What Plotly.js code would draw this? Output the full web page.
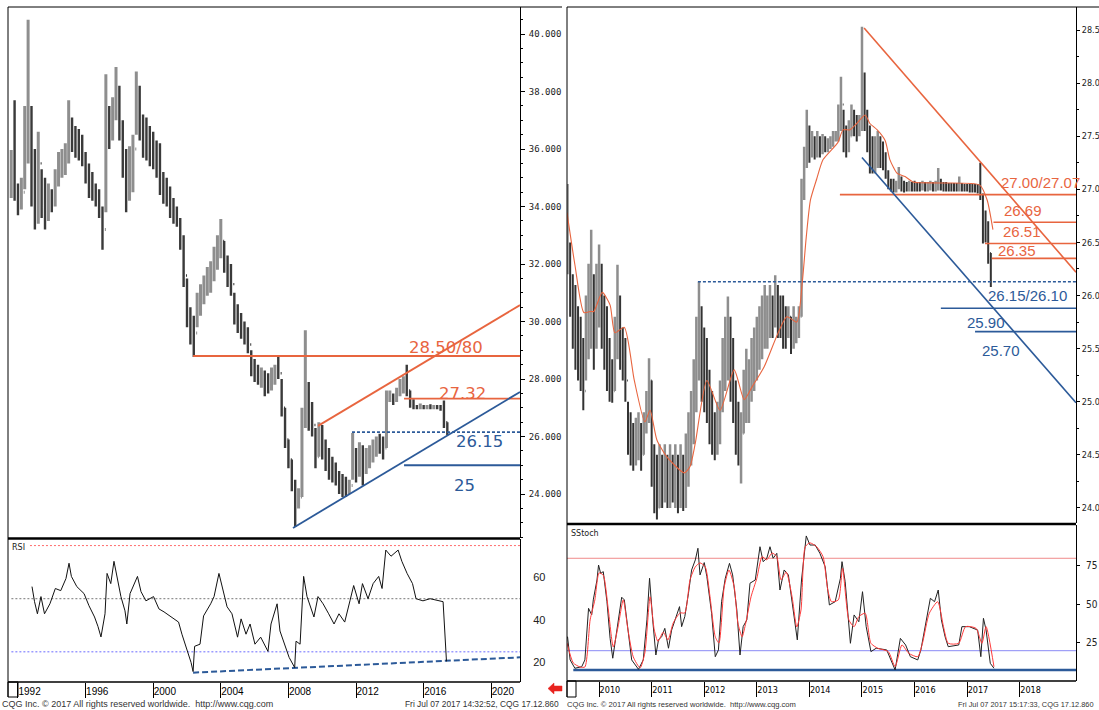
<!DOCTYPE html>
<html><head><meta charset="utf-8">
<script src="https://cdn.plot.ly/plotly-3.0.1.min.js"></script>
<style>html,body{margin:0;padding:0;background:#fff;overflow:hidden}#chart{width:1099px;height:710px}</style>
</head><body><div id="chart"></div>
<script>
// ---------- LEFT PANEL: long-term bars (year, high, low, close) ----------
const lYear = [1991.6,1991.8,
 1992.0,1992.2,1992.4,1992.6,1992.8, 1993.0,1993.2,1993.4,1993.6,1993.8,
 1994.0,1994.2,1994.4,1994.6,1994.8, 1995.0,1995.2,1995.4,1995.6,1995.8,
 1996.0,1996.2,1996.4,1996.6,1996.8, 1997.0,1997.2,1997.4,1997.6,1997.8,
 1998.0,1998.2,1998.4,1998.6,1998.8, 1999.0,1999.2,1999.4,1999.6,1999.8,
 2000.0,2000.2,2000.4,2000.6,2000.8, 2001.0,2001.2,2001.4,2001.6,2001.8,
 2002.0,2002.2,2002.4,2002.6,2002.8, 2003.0,2003.2,2003.4,2003.6,2003.8,
 2004.0,2004.2,2004.4,2004.6,2004.8, 2005.0,2005.2,2005.4,2005.6,2005.8,
 2006.0,2006.2,2006.4,2006.6,2006.8, 2007.0,2007.2,2007.4,2007.6,2007.8,
 2008.0,2008.2,2008.4,2008.6,2008.8, 2009.0,2009.2,2009.4,2009.6,2009.8,
 2010.0,2010.2,2010.4,2010.6,2010.8, 2011.0,2011.2,2011.4,2011.6,2011.8,
 2012.0,2012.2,2012.4,2012.6,2012.8, 2013.0,2013.2,2013.4,2013.6,2013.8,
 2014.0,2014.2,2014.4,2014.6,2014.8, 2015.0,2015.2,2015.4,2015.6,2015.8,
 2016.0,2016.2,2016.4,2016.6,2016.8, 2017.0,2017.2,2017.4];
const lHigh = [35.97,37.7,
 34.8,35.0,37.5,40.5,37.5, 36.0,36.6,35.3,35.0,34.8,
 34.6,35.3,35.9,36.0,36.2, 37.7,37.1,36.8,36.7,36.5,
 35.9,35.5,35.2,34.8,34.6, 34.0,38.6,37.5,37.8,38.85,
 38.2,37.0,36.0,36.1,36.5, 38.7,38.2,37.2,37.1,36.8,
 36.6,36.3,36.2,35.2,35.0, 34.7,34.3,34.0,33.6,33.0,
 31.5,30.5,30.2,31.0,31.3, 31.6,31.9,32.1,32.6,33.0,
 33.57,32.8,32.3,32.0,31.0, 30.6,30.3,30.0,29.8,29.0,
 28.7,28.5,28.4,28.3,28.2, 28.4,28.5,28.77,28.0,27.0,
 25.9,25.2,24.5,24.2,27.0, 29.7,27.9,27.2,26.3,26.5,
 26.4,25.9,25.6,25.3,25.1, 24.8,24.7,24.6,24.5,26.12,
 25.6,25.8,25.7,25.6,25.7, 25.9,26.0,26.1,26.0,27.6,
 27.6,27.5,27.7,28.0,28.1, 28.5,27.6,27.3,27.1,27.15,
 27.1,27.1,27.12,27.1,27.1, 27.1,27.25,26.5];
const lLow = [34.3,34.2,
 33.7,33.9,34.6,35.5,34.0, 33.2,33.4,33.6,33.2,33.5,
 33.8,34.0,34.7,35.0,35.1, 35.5,35.9,35.7,35.6,35.4,
 34.8,34.3,34.2,34.0,33.6, 32.5,33.8,36.0,36.3,37.0,
 36.3,35.0,33.8,34.2,34.5, 36.5,36.3,35.7,35.6,35.4,
 35.3,35.0,34.4,34.1,34.0, 33.6,33.4,33.3,32.5,31.2,
 29.8,29.2,28.77,29.8,30.2, 30.6,30.9,31.0,31.4,31.8,
 32.2,31.7,31.2,30.9,29.9, 29.6,29.4,29.2,28.9,28.1,
 27.9,27.8,27.7,27.4,27.5, 27.6,27.8,28.0,26.7,25.6,
 24.9,24.1,22.85,23.5,23.9, 26.3,26.2,26.0,24.9,25.3,
 25.2,24.8,24.5,24.4,24.3, 24.0,23.9,23.9,24.0,24.5,
 24.4,24.6,24.3,24.7,24.9, 25.1,25.3,25.4,25.2,25.6,
 27.2,27.1,27.2,27.4,27.5, 27.4,27.0,26.95,26.95,26.95,
 26.95,26.95,26.95,26.95,26.95, 26.9,26.3,26.05];
const lClose = [34.9,34.6,
 34.2,34.5,36.2,37.4,35.0, 34.0,35.5,34.0,33.8,34.4,
 34.3,35.0,35.5,35.6,35.8, 36.6,36.5,36.4,36.0,35.6,
 35.0,34.6,34.5,34.2,33.8, 33.2,37.2,36.8,37.4,38.0,
 36.8,35.5,34.6,35.2,36.0, 38.0,37.0,36.4,36.2,35.9,
 35.7,35.4,34.8,34.6,34.3, 33.9,33.7,33.5,32.8,31.6,
 30.2,29.8,29.6,30.6,30.9, 31.2,31.5,31.8,32.2,32.6,
 32.8,32.0,31.6,31.3,30.2, 29.9,29.6,29.5,29.2,28.4,
 28.2,28.0,28.1,27.8,27.7, 28.0,28.3,28.2,27.0,25.9,
 25.2,24.4,23.6,23.9,26.5, 27.8,26.6,26.4,25.3,26.0,
 25.6,25.2,24.9,24.7,24.5, 24.4,24.2,24.1,24.3,25.4,
 24.8,25.5,24.9,25.3,25.5, 25.6,25.8,25.7,25.6,27.4,
 27.4,27.3,27.5,27.7,27.8, 27.6,27.2,27.05,27.0,27.05,
 27.0,27.02,27.0,27.03,27.0, 27.0,26.5,26.15];
const lYTicks = [24,26,28,30,32,34,36,38,40];
const lXTicks = [1992,1996,2000,2004,2008,2012,2016,2020];
// horizontal levels (value, first year)
const lLevelVals = [28.80, 27.32, 26.15, 25.00];
const lLevelFrom = [2002.36, 2014.84, 2011.76, 2014.84];
const lLabels = ['28.50/80','27.32','26.15','25'];
// trend lines [start year, start value, end year, end value]
const lRedTrend = [2009.75, 26.37, 2021.70, 30.57];
const lBlueTrend = [2008.27, 22.82, 2021.70, 27.55];
// RSI
const rsiYear = [1992.83,1992.98,1993.15,1993.36,1993.57,1993.89,1994.21,1994.53,1994.84,1995.02,1995.16,1995.48,1995.91,1996.20,1996.53,1996.73,1996.91,1997.15,1997.27,1997.49,1997.68,1997.92,1998.09,1998.33,1998.44,1998.63,1999.07,1999.28,1999.57,2000.02,2000.34,2000.64,2001.05,2001.50,2001.70,2002.03,2002.24,2002.36,2002.45,2002.77,2002.98,2003.40,2003.60,2003.89,2004.13,2004.37,2004.66,2004.99,2005.20,2005.49,2005.73,2006.02,2006.36,2006.79,2006.97,2007.33,2007.50,2007.86,2008.04,2008.37,2008.45,2008.69,2008.90,2009.10,2009.32,2009.51,2009.75,2010.05,2010.38,2010.70,2010.99,2011.33,2011.64,2011.86,2012.18,2012.38,2012.71,2013.01,2013.34,2013.54,2013.76,2014.07,2014.49,2014.71,2015.02,2015.34,2015.55,2015.96,2016.38,2016.82,2017.15,2017.35];
const rsiVal = [55.7,48.6,42.9,51,42.9,47.6,54.8,53.8,59.5,66.7,60.5,55.7,52.4,46.7,41.4,37,32,42.9,61.9,57.1,67.6,57,51,44.3,38.1,52.4,60.5,53.3,49,51,45.2,43.8,41.4,39,33.3,24.8,20,15.7,27.6,28.6,41.9,47.6,51,61.9,53.8,46.2,42.9,31.9,40.5,33.3,38.1,28.6,31.9,25.2,38.1,47.6,34.8,27.1,22.4,17.6,30,28.6,60.5,51,46.2,41.4,51,47.6,42.9,38.1,42.9,39,49,56.2,47.6,57.1,50,57.1,60.5,54.8,72.9,70,72.9,67.6,61.9,57.1,50,49,50,49,48.6,20.5];
const rsiLevels = [75, 50, 25];
const rsiTrend = [2002.36, 15.2, 2021.70, 22.4];
const rsiTicks = [20, 40, 60];

// ---------- RIGHT PANEL: daily bars ----------
const rYear = [2009.40,2009.45,2009.50,2009.55,2009.60,2009.65,2009.70,2009.75,2009.80,2009.85,2009.90,2009.95,
 2010.00,2010.05,2010.10,2010.15,2010.20,2010.25,2010.30,2010.35,2010.40,2010.45,2010.50,2010.55,2010.60,2010.65,2010.70,2010.75,2010.80,2010.85,2010.90,2010.95,
 2011.00,2011.05,2011.10,2011.15,2011.20,2011.25,2011.30,2011.35,2011.40,2011.45,2011.50,2011.55,2011.60,2011.65,2011.70,2011.75,2011.80,2011.85,2011.90,2011.95,
 2012.00,2012.05,2012.10,2012.15,2012.20,2012.25,2012.30,2012.35,2012.40,2012.45,2012.50,2012.55,2012.60,2012.65,2012.70,2012.75,2012.80,2012.85,2012.90,2012.95,
 2013.00,2013.05,2013.10,2013.15,2013.20,2013.25,2013.30,2013.35,2013.40,2013.45,2013.50,2013.55,2013.60,2013.65,2013.70,2013.75,2013.80,2013.85,2013.90,2013.95,
 2014.00,2014.05,2014.10,2014.15,2014.20,2014.25,2014.30,2014.35,2014.40,2014.45,2014.50,2014.55,2014.60,2014.65,2014.70,2014.75,2014.80,2014.85,2014.90,2014.95,
 2015.00,2015.05,2015.10,2015.15,2015.20,2015.25,2015.30,2015.35,2015.40,2015.45,2015.50,2015.55,2015.60,2015.65,2015.70,2015.75,2015.80,2015.85,2015.90,2015.95,
 2016.00,2016.05,2016.10,2016.15,2016.20,2016.25,2016.30,2016.35,2016.40,2016.45,2016.50,2016.55,2016.60,2016.65,2016.70,2016.75,2016.80,2016.85,2016.90,2016.95,
 2017.00,2017.05,2017.10,2017.15,2017.20,2017.25,2017.30,2017.35,2017.40,2017.45];
const rHigh = [27.05,26.5,26.2,26.1,25.9,25.8,25.6,26.0,26.3,26.62,26.2,26.3,
 26.48,26.3,26.0,25.9,25.6,25.4,25.8,26.29,26.0,25.7,25.6,25.0,24.9,24.8,24.85,24.9,24.8,24.9,25.1,25.41,
 25.2,24.6,24.5,24.6,24.5,24.6,24.5,24.6,24.5,24.6,24.5,24.6,24.5,24.7,24.9,25.1,25.4,25.8,26.13,25.9,
 25.7,25.6,25.3,25.1,24.9,25.0,25.2,25.6,25.8,25.99,25.8,25.6,25.2,25.0,24.9,25.3,25.5,25.4,25.6,25.7,
 25.8,25.9,26.0,26.1,26.0,26.1,26.0,26.19,26.1,26.0,26.0,25.9,25.9,25.8,25.9,25.8,25.9,27.1,27.4,27.75,
 27.6,27.55,27.5,27.55,27.5,27.52,27.5,27.48,27.5,27.55,27.55,27.8,28.06,27.75,27.6,27.65,27.8,27.75,27.7,27.7,
 28.53,28.1,27.75,27.6,27.5,27.5,27.55,27.5,27.45,27.35,27.18,27.1,27.1,27.08,27.21,27.12,27.08,27.07,27.08,27.07,
 27.08,27.07,27.07,27.08,27.07,27.07,27.08,27.07,27.08,27.2,27.1,27.07,27.07,27.06,27.06,27.06,27.06,27.12,27.06,27.05,
 27.05,27.05,27.05,27.05,27.05,27.25,26.96,26.8,26.7,26.4];
const rLow = [26.2,25.8,25.5,25.3,25.2,25.1,24.92,25.2,25.4,25.5,25.3,25.5,
 25.7,25.5,25.3,25.1,25.0,24.99,25.1,25.4,25.3,25.2,25.0,24.5,24.4,24.35,24.4,24.45,24.35,24.5,24.7,24.8,
 24.2,23.95,23.89,24.0,24.0,24.05,24.0,24.0,24.05,24.0,23.95,24.0,23.97,24.0,24.2,24.4,24.6,24.9,25.2,25.0,
 24.9,24.8,24.6,24.5,24.45,24.5,24.6,24.9,25.1,25.2,25.0,24.8,24.5,24.4,24.23,24.7,24.8,24.8,25.0,25.1,
 25.2,25.3,25.4,25.5,25.5,25.6,25.6,25.7,25.6,25.6,25.5,25.5,25.6,25.45,25.5,25.55,25.6,25.8,26.9,27.2,
 27.25,27.3,27.28,27.3,27.3,27.33,27.35,27.35,27.38,27.4,27.45,27.45,27.55,27.35,27.3,27.35,27.5,27.5,27.45,27.5,
 27.55,27.55,27.35,27.15,27.15,27.15,27.2,27.2,27.18,27.1,27.0,26.98,26.97,26.97,27.0,26.98,26.97,26.98,26.98,26.98,
 26.98,26.98,26.98,26.99,26.98,26.98,26.99,26.98,26.98,26.99,26.99,26.98,26.98,26.98,26.98,26.98,26.98,26.98,26.98,26.98,
 26.98,26.97,26.97,26.97,26.96,26.9,26.49,26.5,26.3,26.08];
const rClose = [26.4,26.0,25.7,25.6,25.4,25.3,25.1,25.7,25.9,26.0,25.6,26.0,
 26.2,25.8,25.5,25.3,25.2,25.1,25.5,25.9,25.6,25.4,25.2,24.7,24.6,24.5,24.6,24.7,24.5,24.8,24.9,25.2,
 24.4,24.1,24.0,24.3,24.2,24.4,24.2,24.3,24.2,24.4,24.1,24.3,24.2,24.4,24.6,24.8,25.2,25.5,25.7,25.3,
 25.2,25.0,24.8,24.7,24.6,24.8,25.0,25.4,25.5,25.7,25.3,25.0,24.7,24.6,24.7,25.1,25.1,25.2,25.3,25.4,
 25.5,25.7,25.8,25.8,25.9,25.9,25.8,26.0,25.8,25.8,25.7,25.7,25.8,25.6,25.7,25.7,25.8,27.0,27.3,27.45,
 27.4,27.45,27.4,27.45,27.4,27.45,27.42,27.45,27.45,27.5,27.5,27.7,27.8,27.45,27.4,27.5,27.65,27.6,27.55,27.6,
 27.9,27.7,27.45,27.3,27.3,27.35,27.4,27.35,27.3,27.15,27.05,27.03,27.0,27.02,27.1,27.05,27.03,27.02,27.04,27.03,
 27.03,27.02,27.02,27.03,27.02,27.03,27.03,27.02,27.03,27.05,27.03,27.02,27.02,27.02,27.02,27.02,27.02,27.03,27.02,27.01,
 27.01,27.01,27.0,27.0,27.0,26.95,26.6,26.6,26.4,26.15];
// moving average (red)
const maYear = [2009.39,2009.54,2009.71,2009.83,2009.90,2010.06,2010.21,2010.30,2010.48,2010.67,2010.87,2010.97,2011.10,2011.29,2011.62,2011.73,2011.83,2012.05,2012.30,2012.57,2012.76,2012.91,2013.14,2013.57,2013.76,2013.86,2013.94,2014.02,2014.14,2014.26,2014.54,2014.64,2014.77,2014.90,2015.06,2015.15,2015.29,2015.44,2015.53,2015.67,2015.82,2015.97,2016.48,2017.24,2017.38,2017.49];
const maVal = [26.78,26.29,25.84,25.85,25.85,26.03,25.91,25.65,25.70,25.20,24.81,24.92,24.64,24.48,24.33,24.39,24.61,25.20,24.92,25.30,25.02,25.14,25.33,25.80,25.75,26.10,26.55,26.90,27.10,27.28,27.44,27.56,27.56,27.62,27.70,27.62,27.56,27.46,27.28,27.15,27.12,27.07,27.06,27.04,26.90,26.62];
const rYTicks = [24,24.5,25,25.5,26,26.5,27,27.5,28,28.5];
const rXTicks = [2010,2011,2012,2013,2014,2015,2016,2017,2018];
const rRedLevels = [26.95, 26.69, 26.49, 26.35];
const rRedFrom = [2014.58, 2017.50, 2017.34, 2017.47];
const rBlueLevels = [26.13, 25.88, 25.66];
const rBlueFrom = [2011.88, 2016.50, 2017.15];
const rRedLabels = ['27.00/27.07','26.69','26.51','26.35'];
const rBlueLabels = ['26.15/26.10','25.90','25.70'];
const rRedTrend = [2015.04, 28.52, 2019.07, 26.22];
const rBlueTrend = [2015.00, 27.30, 2019.07, 24.99];
// slow stochastic
const kYear = [2009.40,2009.45,2009.54,2009.67,2009.73,2009.80,2009.86,2009.89,2009.96,2009.99,2010.03,2010.08,2010.15,2010.21,2010.26,2010.30,2010.37,2010.43,2010.48,2010.53,2010.62,2010.75,2010.84,2010.91,2010.96,2011.02,2011.08,2011.13,2011.19,2011.25,2011.32,2011.38,2011.44,2011.53,2011.57,2011.63,2011.70,2011.76,2011.83,2011.88,2011.92,2012.00,2012.05,2012.14,2012.21,2012.27,2012.33,2012.40,2012.48,2012.54,2012.62,2012.68,2012.74,2012.81,2012.87,2012.97,2013.06,2013.12,2013.19,2013.25,2013.31,2013.38,2013.44,2013.52,2013.60,2013.69,2013.77,2013.85,2013.94,2014.01,2014.11,2014.20,2014.30,2014.38,2014.49,2014.59,2014.62,2014.68,2014.78,2014.85,2014.94,2015.01,2015.08,2015.17,2015.27,2015.47,2015.63,2015.73,2015.83,2015.92,2016.06,2016.12,2016.19,2016.30,2016.38,2016.45,2016.51,2016.58,2016.64,2016.84,2016.90,2017.04,2017.20,2017.26,2017.31,2017.36,2017.44,2017.51];
const kVal = [29.1,14.0,8.6,9.6,14,47.5,43.2,53,65.9,75.6,70.2,71.3,51.8,27.9,15.1,24.8,42.1,54.7,53,37.8,14,7.9,14,40,67,40,17.2,27,29.1,34.5,21.6,33.4,40,48.6,35.6,42.1,57.3,72.4,78.9,86.5,69.2,77.2,68.1,44.3,16.1,20.5,51.8,67,76.7,69.2,46.4,17.2,35.6,40,63.8,65.9,87.5,77.8,80,87.5,80,83.2,59.4,72.4,69.2,46.4,27,65.9,94.5,88.6,88.6,83.2,74.5,49.7,51.8,67,77.8,64.8,24.8,43.2,38.8,58.3,35.6,19.4,21.6,20.5,7.5,28,23.7,16.1,14,20.5,33.4,54,51.8,59.4,40,29.1,22.6,23.7,35.6,35.6,33.4,16.1,41,33.4,11.8,8.6];
const dYear = [2009.39,2009.51,2009.64,2009.73,2009.83,2009.92,2010.00,2010.08,2010.17,2010.27,2010.36,2010.46,2010.55,2010.65,2010.78,2010.87,2010.97,2011.05,2011.12,2011.22,2011.31,2011.41,2011.54,2011.63,2011.73,2011.83,2011.92,2012.02,2012.11,2012.21,2012.28,2012.38,2012.47,2012.57,2012.64,2012.72,2012.79,2012.89,2013.00,2013.10,2013.19,2013.29,2013.38,2013.46,2013.56,2013.67,2013.76,2013.84,2013.92,2014.01,2014.14,2014.26,2014.35,2014.42,2014.55,2014.63,2014.75,2014.85,2014.94,2015.06,2015.17,2015.30,2015.50,2015.63,2015.76,2015.89,2016.06,2016.15,2016.28,2016.44,2016.55,2016.64,2016.84,2016.97,2017.17,2017.28,2017.36,2017.51];
const dVal = [25,12,9.4,9.4,40,53,70.5,69,48.3,22.4,35.4,53,33.4,16,8.8,18.5,55,33.4,26,32,27,38,44.5,44.5,66,74.4,77,74.4,55,29,25,61.4,72.4,61.4,38,29,38,55,67,81,79,83.4,81,66,71,55,35.4,46.4,87.4,90,87.4,81,59.4,51.8,53,73.5,40,35.6,42.1,44.3,24.8,21.6,19.4,9.6,23.7,18.3,16.1,24.8,44.3,51.8,35.6,24.8,24.8,35.6,34.5,24.8,35.6,9.6];
const stochLevels = [80, 20];
const stochFloor = [2009.51, 7.5];
const stochTicks = [25, 50, 75];

// ---------- drawing ----------
const W = 1099, H = 710;
const fx = p => p / W, fy = p => 1 - p / H;
const RED = '#E8653F', BLUE = '#2C5A99';
const L_XR = [1991.41, 2021.70], R_XR = [2009.39, 2019.07];
const lOpen = lClose.map((c, i) => i === 0 ? c : lClose[i - 1]);
const rOpen = rClose.map((c, i) => i === 0 ? c : rClose[i - 1]);

const line = (xs, ys, xa, ya, color, width, dash, shape) => ({
  type: 'scatter', mode: 'lines', x: xs, y: ys, xaxis: xa, yaxis: ya,
  line: {color: color, width: width, dash: dash || 'solid', shape: shape || 'linear', smoothing: 0.6},
  hoverinfo: 'skip', cliponaxis: true
});

const traces = [];
// left bars
traces.push({type: 'ohlc', x: lYear, open: lOpen, high: lHigh, low: lLow, close: lClose,
  xaxis: 'x', yaxis: 'y', tickwidth: 0.3,
  increasing: {line: {color: '#8e8e8e', width: 3}}, decreasing: {line: {color: '#3a3a3a', width: 2.4}},
  hoverinfo: 'skip'});
// left levels
const lColors = [RED, RED, BLUE, BLUE];
lLevelVals.forEach((v, i) => {
  traces.push(line([lLevelFrom[i], L_XR[1]], [v, v], 'x', 'y', lColors[i], 1.8, i === 2 ? '3px,2px' : 'solid'));
});
traces.push(line([lRedTrend[0], lRedTrend[2]], [lRedTrend[1], lRedTrend[3]], 'x', 'y', RED, 1.8));
traces.push(line([lBlueTrend[0], lBlueTrend[2]], [lBlueTrend[1], lBlueTrend[3]], 'x', 'y', BLUE, 1.8));
// RSI
traces.push(line([1992.71, L_XR[1]], [rsiLevels[0], rsiLevels[0]], 'x2', 'y2', '#ff6a6a', 1, '2px,2px'));
traces.push(line([L_XR[0] + 0.2, L_XR[1]], [rsiLevels[1], rsiLevels[1]], 'x2', 'y2', '#777', 1, '2px,2px'));
traces.push(line([L_XR[0] + 0.2, L_XR[1]], [rsiLevels[2], rsiLevels[2]], 'x2', 'y2', '#6a6aff', 1, '2px,2px'));
traces.push(line([rsiTrend[0], rsiTrend[2]], [rsiTrend[1], rsiTrend[3]], 'x2', 'y2', BLUE, 2, '6px,3px'));
traces.push(line(rsiYear, rsiVal, 'x2', 'y2', '#111', 1));

// right bars
traces.push({type: 'ohlc', x: rYear, open: rOpen, high: rHigh, low: rLow, close: rClose,
  xaxis: 'x3', yaxis: 'y3', tickwidth: 0.3,
  increasing: {line: {color: '#8e8e8e', width: 2.5}}, decreasing: {line: {color: '#333', width: 2}},
  hoverinfo: 'skip'});
traces.push(line(maYear, maVal, 'x3', 'y3', RED, 1.1, 'solid', 'spline'));
rRedLevels.forEach((v, i) => traces.push(line([rRedFrom[i], R_XR[1]], [v, v], 'x3', 'y3', RED, 1.6)));
rBlueLevels.forEach((v, i) => traces.push(line([rBlueFrom[i], R_XR[1]], [v, v], 'x3', 'y3', BLUE, 1.6, i === 0 ? '3px,2px' : 'solid')));
traces.push(line([rRedTrend[0], rRedTrend[2]], [rRedTrend[1], rRedTrend[3]], 'x3', 'y3', RED, 1.6));
traces.push(line([rBlueTrend[0], rBlueTrend[2]], [rBlueTrend[1], rBlueTrend[3]], 'x3', 'y3', BLUE, 1.6));
// stochastic
traces.push(line([R_XR[0], R_XR[1]], [stochLevels[0], stochLevels[0]], 'x4', 'y4', '#f08a8a', 1));
traces.push(line([R_XR[0], R_XR[1]], [stochLevels[1], stochLevels[1]], 'x4', 'y4', '#8a8af5', 1));
traces.push(line([stochFloor[0], R_XR[1]], [stochFloor[1], stochFloor[1]], 'x4', 'y4', BLUE, 2.5));
traces.push(line(kYear, kVal, 'x4', 'y4', '#222', 1));
traces.push(line(dYear, dVal, 'x4', 'y4', '#ff3b3b', 1, 'solid', 'spline'));

const base = {showgrid: false, zeroline: false, fixedrange: true};
const xTickStyle = {ticks: 'outside', ticklen: 15, tickwidth: 1, tickcolor: '#000',
  ticklabelposition: 'outside right', ticklabelstandoff: 0};

const layout = {
  width: W, height: H, margin: {l: 0, r: 0, t: 0, b: 0, pad: 0},
  paper_bgcolor: '#fff', plot_bgcolor: '#fff', showlegend: false, hovermode: false,
  xaxis: Object.assign({}, base, {domain: [fx(8), fx(520)], range: L_XR, anchor: 'y', showticklabels: false, rangeslider: {visible: false}}),
  yaxis: Object.assign({}, base, {domain: [fy(538), fy(7)], range: [22.47, 40.94], anchor: 'x', side: 'right',
    tickmode: 'array', tickvals: lYTicks, tickformat: '.3f', ticks: 'outside', ticklen: 4, tickcolor: '#000',
    showline: true, linecolor: '#000', linewidth: 1,
    minor: {tickmode: 'linear', tick0: 0, dtick: 0.5, ticks: 'outside', ticklen: 2, tickcolor: '#000'},
    tickfont: {family: 'DejaVu Sans Mono', size: 9, color: '#222'}, ticklabelstandoff: 2}),
  xaxis2: Object.assign({}, base, xTickStyle, {domain: [fx(8), fx(520)], range: L_XR, anchor: 'y2',
    tickmode: 'array', tickvals: lXTicks, ticktext: lXTicks.map(String),
    tickfont: {family: 'Liberation Sans', size: 10, color: '#000'}}),
  yaxis2: Object.assign({}, base, {domain: [fy(682), fy(539)], range: [10.8, 78.1], anchor: 'x2', side: 'right',
    tickmode: 'array', tickvals: rsiTicks, ticks: '', showline: true, linecolor: '#000', linewidth: 1,
    tickfont: {family: 'Liberation Sans', size: 11, color: '#222'}, ticklabelstandoff: 10}),
  xaxis3: Object.assign({}, base, {domain: [fx(567), fx(1076)], range: R_XR, anchor: 'y3', showticklabels: false, rangeslider: {visible: false}}),
  yaxis3: Object.assign({}, base, {domain: [fy(523), fy(7)], range: [23.858, 28.717], anchor: 'x3', side: 'right',
    tickmode: 'array', tickvals: rYTicks, tickformat: '.1f', ticks: 'outside', ticklen: 3, tickcolor: '#000',
    showline: true, linecolor: '#000', linewidth: 1,
    minor: {tickmode: 'linear', tick0: 0, dtick: 0.25, ticks: 'outside', ticklen: 2, tickcolor: '#000'},
    tickfont: {family: 'DejaVu Sans Condensed, DejaVu Sans', size: 9, color: '#222'}, ticklabelstandoff: 0}),
  xaxis4: Object.assign({}, base, xTickStyle, {domain: [fx(567), fx(1076)], range: R_XR, anchor: 'y4',
    tickmode: 'array', tickvals: rXTicks, ticktext: rXTicks.map(String),
    tickfont: {family: 'DejaVu Sans Condensed, DejaVu Sans', size: 9, color: '#000'}}),
  yaxis4: Object.assign({}, base, {domain: [fy(681), fy(525)], range: [0.32, 101.6], anchor: 'x4', side: 'right',
    tickmode: 'array', tickvals: stochTicks, ticks: 'outside', ticklen: 3, tickcolor: '#000', showline: true, linecolor: '#000', linewidth: 1,
    tickfont: {family: 'DejaVu Sans Condensed, DejaVu Sans', size: 10, color: '#222'}, ticklabelstandoff: 4}),
  shapes: [], annotations: []
};

const S = layout.shapes, A = layout.annotations;
const hl = (x0, x1, y, w) => S.push({type: 'line', xref: 'paper', yref: 'paper', x0: fx(x0), x1: fx(x1), y0: fy(y), y1: fy(y), line: {color: '#000', width: w}});
const vl = (x, y0, y1, w) => S.push({type: 'line', xref: 'paper', yref: 'paper', x0: fx(x), x1: fx(x), y0: fy(y0), y1: fy(y1), line: {color: '#000', width: w}});
// left frame
hl(8, 562, 7, 1); vl(8, 7, 697, 1); hl(8, 520, 538.5, 2.5); hl(8, 520, 682, 1.5);
S.push({type: 'rect', xref: 'paper', yref: 'paper', x0: fx(8), x1: fx(18), y0: fy(697), y1: fy(682), line: {color: '#000', width: 1}});
// right frame
hl(567, 1099, 7, 1); vl(567, 7, 697, 1); hl(567, 1076, 524, 2.5); hl(567, 1076, 681, 1.5);
S.push({type: 'rect', xref: 'paper', yref: 'paper', x0: fx(567), x1: fx(576), y0: fy(697), y1: fy(681), line: {color: '#000', width: 1}});
// red arrow
const arrow = [[548, 688.5], [554, 683], [554, 686], [562, 686], [562, 691], [554, 691], [554, 694]];
S.push({type: 'path', xref: 'paper', yref: 'paper',
  path: 'M ' + arrow.map(p => fx(p[0]).toFixed(5) + ',' + fy(p[1]).toFixed(5)).join(' L ') + ' Z',
  fillcolor: '#e8231e', line: {color: '#e8231e', width: 0.5}});

// level labels
const lPos = [[2015.02, 29.08], [2016.79, 27.51], [2017.80, 25.81], [2017.68, 24.31]];
lLabels.forEach((t, i) => A.push({xref: 'x', yref: 'y', x: lPos[i][0], y: lPos[i][1], text: t, showarrow: false,
  xanchor: 'left', yanchor: 'middle', font: {family: 'DejaVu Sans', size: 16.5, color: lColors[i]}}));
const rRedPos = [[2017.60, 27.064], [2017.66, 26.80], [2017.64, 26.60], [2017.55, 26.42]];
rRedLabels.forEach((t, i) => A.push({xref: 'x3', yref: 'y3', x: rRedPos[i][0], y: rRedPos[i][1], text: t, showarrow: false,
  xanchor: 'left', yanchor: 'middle', font: {family: 'Liberation Sans', size: 15, color: RED}}));
const rBluePos = [[2017.36, 26.00], [2016.96, 25.75], [2017.24, 25.48]];
rBlueLabels.forEach((t, i) => A.push({xref: 'x3', yref: 'y3', x: rBluePos[i][0], y: rBluePos[i][1], text: t, showarrow: false,
  xanchor: 'left', yanchor: 'middle', font: {family: 'Liberation Sans', size: 15, color: BLUE}}));

const txt = (x, y, t, fam, size, color) => A.push({xref: 'paper', yref: 'paper', x: fx(x), y: fy(y), text: t, showarrow: false,
  xanchor: 'left', yanchor: 'middle', font: {family: fam, size: size, color: color}});
txt(10, 547, 'RSI', 'DejaVu Sans', 8, '#222');
txt(569, 533, 'SStoch', 'DejaVu Sans', 8, '#222');
txt(0, 704, 'CQG Inc. © 2017 All rights reserved worldwide.  http://www.cqg.com', 'Liberation Sans', 9, '#333');
txt(403, 704, 'Fri Jul 07 2017 14:32:52, CQG 17.12.860', 'Liberation Sans', 8.4, '#333');
txt(565, 704, 'CQG Inc. © 2017 All rights reserved worldwide.  http://www.cqg.com', 'Liberation Sans', 7.6, '#333');
txt(956, 704, 'Fri Jul 07 2017 15:17:33, CQG 17.12.860', 'Liberation Sans', 7.4, '#333');

Plotly.newPlot('chart', traces, layout, {staticPlot: true, displayModeBar: false});
</script></body></html>
